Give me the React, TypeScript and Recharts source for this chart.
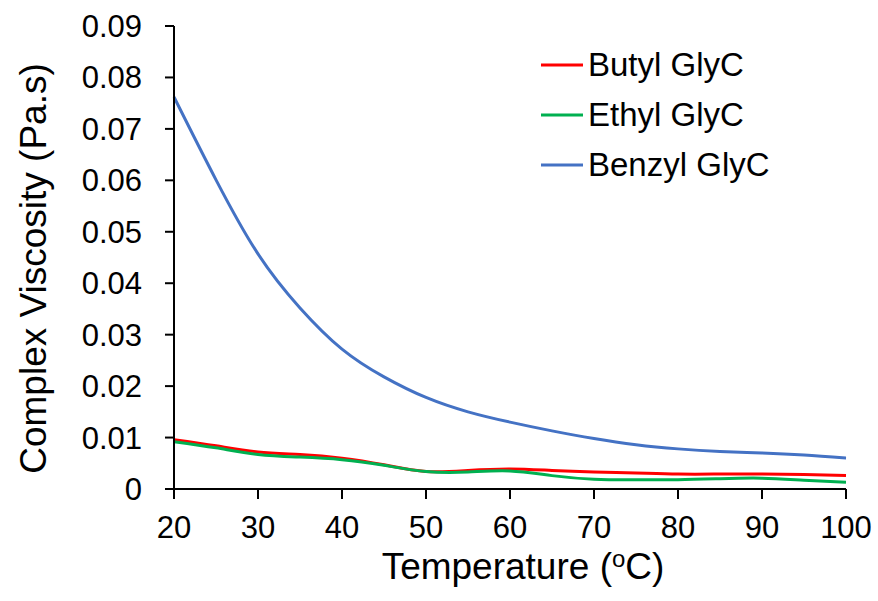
import React from 'react';
import { LineChart, Line, XAxis, YAxis, Legend } from 'recharts';

const temps = [20, 25, 30, 35, 40, 45, 50, 55, 60, 65, 70, 75, 80, 85, 90, 95, 100];
const butyl = [0.0096, 0.0084, 0.0072, 0.0067, 0.006, 0.0047, 0.0034, 0.0036, 0.0039, 0.0036, 0.0033, 0.0031, 0.0029, 0.0029, 0.0029, 0.0028, 0.0026];
const ethyl = [0.0092, 0.008, 0.0067, 0.0062, 0.0057, 0.0046, 0.0034, 0.0033, 0.0035, 0.0026, 0.0019, 0.0018, 0.0018, 0.002, 0.0021, 0.0017, 0.0013];
const benzyl = [0.0762, 0.0601, 0.0457, 0.0352, 0.0272, 0.0218, 0.0178, 0.015, 0.013, 0.0113, 0.0098, 0.0086, 0.0078, 0.0073, 0.007, 0.0066, 0.006];

const xTicks = [20, 30, 40, 50, 60, 70, 80, 90, 100];
const yTicks = [0, 0.01, 0.02, 0.03, 0.04, 0.05, 0.06, 0.07, 0.08, 0.09];

const seriesNames = ['Butyl GlyC', 'Ethyl GlyC', 'Benzyl GlyC'];
const seriesColors = ['#FF0000', '#00B050', '#4472C4'];

const data = temps.map((t, i) => ({ t, butyl: butyl[i], ethyl: ethyl[i], benzyl: benzyl[i] }));

const FONT = '"Liberation Sans", Arial, sans-serif';

const LegendBox = () => (
  <div style={{ fontFamily: FONT, fontSize: 33, color: '#000' }}>
    {seriesNames.map((n, i) => (
      <div key={n} style={{ display: 'flex', alignItems: 'center', height: 50 }}>
        <svg width={44} height={10} style={{ marginRight: 4 }}>
          <line x1={1} y1={5} x2={43} y2={5} stroke={seriesColors[i]} strokeWidth={3} />
        </svg>
        <span>{n}</span>
      </div>
    ))}
  </div>
);

const YTitle = (props: any) => {
  const vb = props.viewBox || {};
  const cx = 33;
  const cy = (vb.y || 0) + (vb.height || 0) / 2 + 11;
  return (
    <text x={cx} y={cy} transform={`rotate(-90, ${cx}, ${cy})`} textAnchor="middle" dominantBaseline="central" fontFamily={FONT} fontSize={37} fill="#000">
      Complex Viscosity (Pa.s)
    </text>
  );
};

const XTitle = (props: any) => {
  const vb = props.viewBox || {};
  const cx = (vb.x || 0) + (vb.width || 0) / 2 + 13;
  const cy = 579;
  return (
    <text x={cx} y={cy} textAnchor="middle" fontFamily={FONT} fontSize={37} fill="#000">
      <tspan>Temperature (</tspan>
      <tspan dy={-12} fontSize={24}>o</tspan>
      <tspan dy={12}>C)</tspan>
    </text>
  );
};

export default function App() {
  return (
    <div style={{ position: 'absolute', left: 0, top: 0, width: 878, height: 601, background: '#fff' }}>
      <LineChart width={878} height={601} data={data} margin={{ top: 26, right: 32, left: 0, bottom: 0 }}>
        <XAxis
          dataKey="t"
          type="number"
          domain={[20, 100]}
          ticks={xTicks}
          axisLine={{ stroke: '#000', strokeWidth: 2 }}
          tickLine={{ stroke: '#000', strokeWidth: 2 }}
          tickSize={10}
          tickMargin={17}
          height={112}
          tick={{ fill: '#000', fontSize: 31, fontFamily: FONT }}
          label={<XTitle />}
        />
        <YAxis
          type="number"
          domain={[0, 0.09]}
          ticks={yTicks}
          width={174}
          axisLine={{ stroke: '#000', strokeWidth: 2 }}
          tickLine={{ stroke: '#000', strokeWidth: 2 }}
          tickSize={9}
          tickMargin={23}
          tick={{ fill: '#000', fontSize: 31, fontFamily: FONT }}
          tickFormatter={(v: number) => (v === 0 ? '0' : v.toFixed(2))}
          label={<YTitle />}
        />
        <Legend
          verticalAlign="middle"
          align="center"
          layout="horizontal"
          wrapperStyle={{ position: 'absolute', left: 540, top: 40, width: 280 }}
          content={() => <LegendBox />}
        />
        <Line type="natural" dataKey="butyl" name={seriesNames[0]} stroke={seriesColors[0]} strokeWidth={3} dot={false} isAnimationActive={false} />
        <Line type="natural" dataKey="ethyl" name={seriesNames[1]} stroke={seriesColors[1]} strokeWidth={3} dot={false} isAnimationActive={false} />
        <Line type="natural" dataKey="benzyl" name={seriesNames[2]} stroke={seriesColors[2]} strokeWidth={3} dot={false} isAnimationActive={false} />
      </LineChart>
    </div>
  );
}
